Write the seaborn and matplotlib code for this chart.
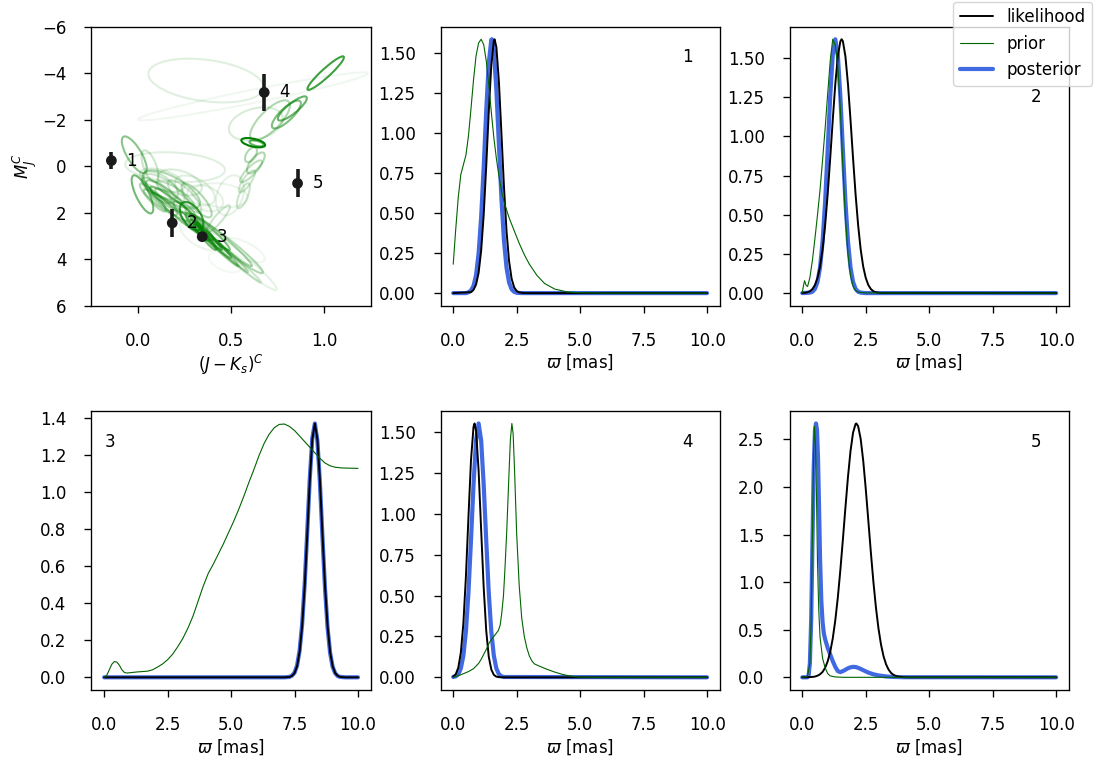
import numpy as np
import matplotlib
matplotlib.use("Agg")
import matplotlib.pyplot as plt
from matplotlib.patches import Ellipse
import seaborn as sns

# ---------------------------------------------------------------
# Colour-magnitude prior: Gaussian mixture components
# (mean colour, mean magnitude, sigma colour, sigma magnitude,
#  correlation, drawing opacity ~ component weight)
# ---------------------------------------------------------------
comp_color = [0.365, 0.617, 1.008, 0.829, 0.797, 0.709, 0.633, 0.619, 0.637,
              0.607, 0.633, 0.607, 0.585, 0.566, 0.432, -0.020, 0.064, 0.199,
              0.024, 0.180, 0.288, 0.467, 0.530, 0.235, 0.118, 0.225, 0.306,
              0.150, 0.199, 0.360, 0.440, 0.574, 0.467, 0.333, 0.315, 0.451,
              0.386, 0.494, 0.330, 0.360, 0.300, 0.420, 0.500, 0.400, 0.270,
              0.120, 0.170, 0.100, 0.140, 0.200, 0.080, 0.250, 0.130, 0.380,
              0.460]
comp_mag = [-3.68, -3.00, -4.00, -2.48, -2.22, -1.97, -1.82, -1.01, -0.98,
            -0.49, -0.14, 0.22, 0.65, 1.27, 2.26, -0.49, 0.00, 0.04,
            1.21, 1.00, 2.15, 3.31, 3.90, 2.03, 0.82, 0.70, 1.04,
            1.30, 1.55, 1.38, 1.25, 3.61, 4.13, 2.97, 1.47, 3.18,
            2.84, 1.25, 2.75, 3.05, 2.45, 3.40, 3.90, 3.20, 2.20,
            1.55, 1.75, 1.05, 0.95, 1.20, 1.35, 1.30, 0.60, 3.00,
            3.60]
comp_sig_color = [0.309, 0.617, 0.098, 0.078, 0.078, 0.107, 0.145, 0.064, 0.038,
                  0.032, 0.048, 0.059, 0.043, 0.035, 0.062, 0.067, 0.045, 0.268,
                  0.058, 0.153, 0.063, 0.204, 0.215, 0.170, 0.097, 0.118, 0.107,
                  0.107, 0.107, 0.097, 0.150, 0.107, 0.086, 0.107, 0.081, 0.161,
                  0.107, 0.075, 0.050, 0.060, 0.045, 0.120, 0.160, 0.100, 0.080,
                  0.090, 0.100, 0.080, 0.110, 0.100, 0.070, 0.090, 0.120, 0.070,
                  0.130]
comp_sig_mag = [0.94, 1.03, 0.72, 0.52, 0.60, 0.86, 0.71, 0.20, 0.13,
                0.32, 0.45, 0.47, 0.47, 0.54, 0.58, 0.79, 0.68, 0.64,
                0.82, 0.82, 0.61, 1.29, 1.42, 1.15, 0.60, 0.56, 0.64,
                0.69, 0.60, 0.56, 0.52, 0.52, 0.43, 0.64, 0.73, 1.12,
                0.77, 0.86, 0.45, 0.55, 0.45, 0.90, 1.10, 0.75, 0.70,
                0.55, 0.60, 0.55, 0.62, 0.55, 0.60, 0.70, 0.50, 0.60,
                0.95]
comp_rho = [0.30, -0.96, -0.94, -0.85, -0.80, -0.75, -0.30, 0.50, 0.50,
            -0.50, -0.70, -0.85, -0.80, -0.70, -0.90, 0.75, 0.60, 0.20,
            0.75, 0.70, 0.50, 0.97, 0.97, 0.95, 0.60, 0.40, 0.50,
            0.85, 0.90, 0.30, 0.20, 0.70, 0.50, 0.60, 0.80, 0.98,
            0.96, -0.30, 0.90, 0.95, 0.85, 0.985, 0.99, 0.97, 0.90,
            0.92, 0.93, 0.80, 0.75, 0.85, 0.90, 0.80, 0.50, 0.97,
            0.99]
comp_alpha = [0.12, 0.06, 0.75, 0.60, 0.50, 0.30, 0.15, 1.00, 0.60,
              0.30, 0.30, 0.25, 0.20, 0.20, 0.20, 0.45, 0.20, 0.12,
              0.55, 0.30, 0.75, 0.30, 0.10, 0.45, 0.20, 0.15, 0.12,
              0.35, 0.30, 0.10, 0.08, 0.06, 0.05, 0.08, 0.30, 0.35,
              0.50, 0.10, 0.60, 0.55, 0.50, 0.40, 0.20, 0.45, 0.40,
              0.35, 0.35, 0.25, 0.20, 0.25, 0.30, 0.20, 0.15, 0.60,
              0.30]

# Observed stars
star_ids = ["1", "2", "3", "4", "5"]
star_color = [-0.143, 0.184, 0.345, 0.678, 0.857]
star_mag = [-0.24, 2.44, 3.03, -3.17, 0.74]
star_mag_err = [0.35, 0.62, 0.05, 0.81, 0.60]

# ---------------------------------------------------------------
# Parallax densities per star (likelihood, prior, posterior)
# ---------------------------------------------------------------
lik1_x = [0.0, 0.7, 0.8, 0.9, 1.0, 1.1, 1.2, 1.3, 1.4, 1.5, 1.6, 1.63, 1.7, 1.8,
          1.9, 2.0, 2.1, 2.2, 2.3, 2.4, 2.5, 2.6, 2.8, 10.0]
lik1_y = [0.0, 0.006, 0.020, 0.053, 0.126, 0.264, 0.486, 0.790, 1.130, 1.421,
          1.574, 1.583, 1.534, 1.317, 0.995, 0.661, 0.387, 0.199, 0.090, 0.036,
          0.013, 0.004, 0.0, 0.0]
pri1_x = [0.0, 0.1, 0.2, 0.3, 0.4, 0.5, 0.6, 0.7, 0.8, 0.9, 1.0, 1.1, 1.2, 1.3,
          1.4, 1.5, 1.6, 1.7, 1.8, 1.9, 2.0, 2.2, 2.4, 2.6, 2.8, 3.0, 3.3, 3.6,
          4.0, 4.5, 5.0, 6.0, 10.0]
pri1_y = [0.18, 0.40, 0.60, 0.74, 0.80, 0.86, 0.98, 1.15, 1.33, 1.48, 1.56,
          1.583, 1.55, 1.45, 1.30, 1.13, 0.97, 0.84, 0.73, 0.64, 0.57, 0.47,
          0.39, 0.31, 0.24, 0.18, 0.11, 0.06, 0.025, 0.007, 0.002, 0.0, 0.0]
post1_x = [0.0, 0.5, 0.6, 0.7, 0.8, 0.9, 1.0, 1.1, 1.2, 1.3, 1.4, 1.5, 1.52,
           1.6, 1.7, 1.8, 1.9, 2.0, 2.1, 2.2, 2.3, 2.4, 2.5, 2.7, 10.0]
post1_y = [0.0, 0.0, 0.005, 0.016, 0.045, 0.113, 0.248, 0.472, 0.784, 1.136,
           1.434, 1.579, 1.583, 1.515, 1.268, 0.925, 0.588, 0.326, 0.158,
           0.066, 0.024, 0.008, 0.002, 0.0, 0.0]

lik2_x = [0.0, 0.1, 0.2, 0.3, 0.4, 0.5, 0.6, 0.7, 0.8, 0.9, 1.0, 1.1, 1.2, 1.3,
          1.4, 1.5, 1.55, 1.6, 1.7, 1.8, 1.9, 2.0, 2.1, 2.2, 2.3, 2.4, 2.5, 2.6,
          2.7, 2.8, 2.9, 3.0, 3.1, 10.0]
lik2_y = [0.001, 0.002, 0.005, 0.012, 0.026, 0.052, 0.097, 0.169, 0.279, 0.433,
          0.629, 0.860, 1.104, 1.332, 1.509, 1.606, 1.619, 1.606, 1.509, 1.332,
          1.104, 0.860, 0.629, 0.433, 0.279, 0.169, 0.097, 0.052, 0.026, 0.012,
          0.005, 0.002, 0.001, 0.0]
pri2_x = [0.0, 0.05, 0.09, 0.15, 0.21, 0.3, 0.4, 0.5, 0.6, 0.7, 0.8, 0.9, 1.0,
          1.1, 1.2, 1.3, 1.4, 1.5, 1.6, 1.7, 1.8, 1.9, 2.0, 2.1, 2.2, 2.5, 10.0]
pri2_y = [0.004, 0.05, 0.079, 0.05, 0.042, 0.10, 0.21, 0.35, 0.50, 0.66, 0.85,
          1.05, 1.27, 1.48, 1.619, 1.58, 1.45, 1.17, 0.80, 0.48, 0.25, 0.11,
          0.045, 0.016, 0.006, 0.001, 0.0]
post2_x = [0.0, 0.3, 0.4, 0.5, 0.6, 0.7, 0.8, 0.9, 1.0, 1.1, 1.2, 1.3, 1.4, 1.5,
           1.6, 1.7, 1.8, 1.9, 2.0, 2.1, 2.2, 2.3, 2.5, 10.0]
post2_y = [0.0, 0.003, 0.009, 0.027, 0.071, 0.163, 0.329, 0.583, 0.912, 1.255,
           1.519, 1.619, 1.519, 1.255, 0.912, 0.583, 0.329, 0.163, 0.071, 0.027,
           0.009, 0.003, 0.0, 0.0]

lik3_x = [0.0, 7.1, 7.3, 7.4, 7.5, 7.6, 7.7, 7.8, 7.9, 8.0, 8.1, 8.2, 8.3, 8.4,
          8.5, 8.6, 8.7, 8.8, 8.9, 9.0, 9.1, 9.2, 9.3, 9.5, 10.0]
lik3_y = [0.0, 0.0, 0.002, 0.008, 0.023, 0.060, 0.138, 0.278, 0.492, 0.770,
          1.060, 1.283, 1.368, 1.283, 1.060, 0.770, 0.492, 0.278, 0.138, 0.060,
          0.023, 0.008, 0.002, 0.0, 0.0]
pri3_x = [0.0, 0.1, 0.2, 0.3, 0.4, 0.5, 0.6, 0.7, 0.8, 0.9, 1.1, 1.3, 1.5, 1.7,
          1.9, 2.1, 2.3, 2.5, 2.7, 2.9, 3.1, 3.3, 3.5, 3.7, 3.9, 4.1, 4.3, 4.5,
          4.7, 4.9, 5.1, 5.3, 5.5, 5.7, 5.9, 6.1, 6.3, 6.5, 6.7, 6.9, 7.1, 7.3,
          7.5, 7.7, 7.9, 8.1, 8.3, 8.5, 8.7, 8.9, 9.1, 9.4, 10.0]
pri3_y = [0.0, 0.01, 0.04, 0.07, 0.085, 0.082, 0.065, 0.04, 0.026, 0.023, 0.026,
          0.029, 0.031, 0.033, 0.04, 0.055, 0.072, 0.095, 0.125, 0.165, 0.21,
          0.265, 0.33, 0.41, 0.49, 0.56, 0.61, 0.665, 0.72, 0.78, 0.84, 0.905,
          0.975, 1.05, 1.12, 1.195, 1.26, 1.31, 1.345, 1.363, 1.365, 1.352,
          1.33, 1.30, 1.27, 1.24, 1.21, 1.18, 1.155, 1.14, 1.132, 1.128, 1.126]
post3_x = [0.0, 7.1, 7.3, 7.4, 7.5, 7.6, 7.7, 7.8, 7.9, 8.0, 8.1, 8.2, 8.3, 8.4,
           8.5, 8.6, 8.7, 8.8, 8.9, 9.0, 9.1, 9.2, 9.3, 9.5, 10.0]
post3_y = [0.0, 0.0, 0.002, 0.009, 0.025, 0.064, 0.145, 0.288, 0.505, 0.785,
           1.072, 1.290, 1.368, 1.275, 1.047, 0.755, 0.480, 0.269, 0.132, 0.057,
           0.022, 0.007, 0.002, 0.0, 0.0]

lik4_x = [0.0, 0.1, 0.2, 0.3, 0.4, 0.5, 0.6, 0.7, 0.8, 0.84, 0.9, 1.0, 1.1, 1.2,
          1.3, 1.4, 1.5, 1.6, 1.7, 1.8, 2.0, 10.0]
lik4_y = [0.005, 0.019, 0.059, 0.151, 0.330, 0.616, 0.980, 1.327, 1.533, 1.553,
          1.509, 1.265, 0.904, 0.551, 0.286, 0.126, 0.048, 0.015, 0.004, 0.001,
          0.0, 0.0]
pri4_x = [0.0, 0.2, 0.4, 0.6, 0.8, 1.0, 1.1, 1.2, 1.3, 1.4, 1.5, 1.6, 1.7, 1.78,
          1.85, 1.91, 1.98, 2.04, 2.11, 2.18, 2.25, 2.31, 2.36, 2.42, 2.5, 2.6,
          2.7, 2.8, 2.9, 3.0, 3.1, 3.2, 3.4, 3.6, 3.8, 4.0, 4.3, 4.6, 4.9, 5.5,
          10.0]
pri4_y = [0.0, 0.01, 0.022, 0.035, 0.053, 0.085, 0.11, 0.14, 0.17, 0.205, 0.23,
          0.25, 0.27, 0.287, 0.32, 0.39, 0.50, 0.67, 0.90, 1.18, 1.45, 1.553,
          1.49, 1.25, 0.877, 0.56, 0.36, 0.25, 0.18, 0.13, 0.10, 0.082, 0.068,
          0.055, 0.043, 0.032, 0.018, 0.008, 0.002, 0.0, 0.0]
post4_x = [0.0, 0.1, 0.2, 0.3, 0.4, 0.5, 0.6, 0.7, 0.8, 0.9, 1.0, 1.1, 1.2, 1.3,
           1.4, 1.5, 1.6, 1.7, 1.8, 1.9, 2.0, 10.0]
post4_y = [0.002, 0.006, 0.019, 0.054, 0.132, 0.280, 0.518, 0.838, 1.180, 1.450,
           1.553, 1.450, 1.180, 0.838, 0.518, 0.280, 0.132, 0.054, 0.019, 0.006,
           0.002, 0.0]

lik5_x = [0.0, 0.2, 0.4, 0.5, 0.6, 0.7, 0.8, 0.9, 1.0, 1.1, 1.2, 1.3, 1.4, 1.5,
          1.6, 1.7, 1.8, 1.9, 2.0, 2.1, 2.13, 2.2, 2.3, 2.4, 2.5, 2.6, 2.7, 2.8,
          2.9, 3.0, 3.1, 3.2, 3.3, 3.4, 3.5, 3.6, 3.7, 3.8, 4.0, 4.2, 10.0]
lik5_y = [0.0, 0.001, 0.004, 0.008, 0.017, 0.032, 0.057, 0.100, 0.167, 0.267,
          0.408, 0.598, 0.839, 1.128, 1.450, 1.786, 2.106, 2.378, 2.572, 2.663,
          2.668, 2.640, 2.506, 2.278, 1.982, 1.652, 1.318, 1.007, 0.737, 0.516,
          0.346, 0.222, 0.137, 0.081, 0.045, 0.025, 0.013, 0.006, 0.001, 0.0,
          0.0]
pri5_x = [0.0, 0.2, 0.3, 0.35, 0.4, 0.45, 0.48, 0.52, 0.56, 0.6, 0.65, 0.7, 0.8,
          0.9, 1.0, 1.1, 1.3, 1.6, 10.0]
pri5_y = [0.0, 0.01, 0.15, 0.6, 1.5, 2.4, 2.64, 2.45, 1.9, 1.2, 0.7, 0.42, 0.2,
          0.1, 0.04, 0.015, 0.004, 0.0, 0.0]
post5_x = [0.0, 0.2, 0.25, 0.3, 0.35, 0.4, 0.45, 0.5, 0.54, 0.58, 0.62, 0.66,
           0.7, 0.75, 0.8, 0.85, 0.9, 1.0, 1.1, 1.2, 1.3, 1.4, 1.5, 1.6, 1.7,
           1.8, 1.9, 2.0, 2.1, 2.2, 2.3, 2.4, 2.6, 2.8, 3.0, 3.3, 3.6, 4.0, 10.0]
post5_y = [0.0, 0.0, 0.02, 0.15, 0.6, 1.4, 2.2, 2.6, 2.668, 2.6, 2.3, 1.8, 1.25,
           0.8, 0.58, 0.46, 0.40, 0.31, 0.24, 0.17, 0.11, 0.065, 0.055, 0.065,
           0.08, 0.095, 0.105, 0.11, 0.108, 0.10, 0.088, 0.075, 0.05, 0.032,
           0.02, 0.009, 0.004, 0.001, 0.0]

likelihoods = [(lik1_x, lik1_y), (lik2_x, lik2_y), (lik3_x, lik3_y),
               (lik4_x, lik4_y), (lik5_x, lik5_y)]
priors = [(pri1_x, pri1_y), (pri2_x, pri2_y), (pri3_x, pri3_y),
          (pri4_x, pri4_y), (pri5_x, pri5_y)]
posteriors = [(post1_x, post1_y), (post2_x, post2_y), (post3_x, post3_y),
              (post4_x, post4_y), (post5_x, post5_y)]
# where each star's id is written inside its panel (axes fraction)
id_pos = [(0.883, 0.89), (0.882, 0.747), (0.065, 0.889), (0.885, 0.889),
          (0.882, 0.889)]

# ---------------------------------------------------------------
sns.set_theme(style="ticks", rc={
    "axes.edgecolor": "black", "axes.labelcolor": "black",
    "text.color": "black", "xtick.color": "black", "ytick.color": "black",
    "axes.linewidth": 0.96, "xtick.major.width": 0.96,
    "ytick.major.width": 0.96, "xtick.major.size": 5.0,
    "ytick.major.size": 5.0, "xtick.major.pad": 14.0,
    "ytick.major.pad": 13.0, "xtick.labelsize": 12, "ytick.labelsize": 12,
    "axes.labelsize": 12, "axes.labelpad": 2.0, "legend.fontsize": 12,
})
plt.rcParams["font.family"] = ["DejaVu Sans"]

fig, axes = plt.subplots(2, 3, figsize=(10.94, 7.59), dpi=100)
fig.subplots_adjust(left=0.0836, right=0.977, top=0.965, bottom=0.0909,
                    wspace=0.25, hspace=0.376)

# --- colour-magnitude diagram ---
ax = axes[0, 0]
for cx, cy, sx, sy, r, a in zip(comp_color, comp_mag, comp_sig_color,
                                comp_sig_mag, comp_rho, comp_alpha):
    cov = np.array([[sx * sx, r * sx * sy], [r * sx * sy, sy * sy]])
    vals, vecs = np.linalg.eigh(cov)
    ang = np.degrees(np.arctan2(vecs[1, -1], vecs[0, -1]))
    ax.add_patch(Ellipse((cx, cy), 2 * np.sqrt(vals[-1]), 2 * np.sqrt(vals[0]),
                         angle=ang, fill=False, edgecolor="green", alpha=a,
                         lw=1.5))
ax.errorbar(star_color, star_mag, yerr=star_mag_err, fmt="none", ecolor="k",
            elinewidth=2.6, capsize=0, zorder=4)
sns.scatterplot(x=star_color, y=star_mag, color="k", s=60, edgecolor="none",
                ax=ax, zorder=5, legend=False)
for sid, cx, cy in zip(star_ids, star_color, star_mag):
    ax.text(cx + 0.08, cy, sid, ha="left", va="center", fontsize=12)
ax.set_xlim(-0.25, 1.25)
ax.set_ylim(6, -6)
ax.set_xticks([0.0, 0.5, 1.0])
ax.set_yticks([-6, -4, -2, 0, 2, 4, 6])
ax.set_xlabel(r"$(J-K_s)^C$")
ax.set_ylabel(r"$M_J^C$")

# --- parallax panels ---
panel_axes = [axes[0, 1], axes[0, 2], axes[1, 0], axes[1, 1], axes[1, 2]]
for i, ax in enumerate(panel_axes):
    px, py = posteriors[i]
    lx, ly = likelihoods[i]
    qx, qy = priors[i]
    sns.lineplot(x=px, y=py, color="royalblue", lw=3.0, label="posterior",
                 ax=ax, legend=False)
    sns.lineplot(x=lx, y=ly, color="black", lw=1.4, label="likelihood",
                 ax=ax, legend=False)
    sns.lineplot(x=qx, y=qy, color="darkgreen", lw=0.8, label="prior",
                 ax=ax, legend=False)
    ax.set_xticks([0.0, 2.5, 5.0, 7.5, 10.0])
    ax.set_xlabel(r"$\varpi$ [mas]")
    ax.set_ylabel("")
    tx, ty = id_pos[i]
    ax.text(tx, ty, star_ids[i], transform=ax.transAxes, ha="center",
            va="center", fontsize=12)

handles, labels = panel_axes[0].get_legend_handles_labels()
order = [labels.index(n) for n in ["likelihood", "prior", "posterior"]]
fig.legend([handles[k] for k in order], [labels[k] for k in order],
           loc="upper right", bbox_to_anchor=(1.0, 1.0), borderaxespad=0.1,
           fontsize=12)

fig.savefig("out.png", dpi=100)
